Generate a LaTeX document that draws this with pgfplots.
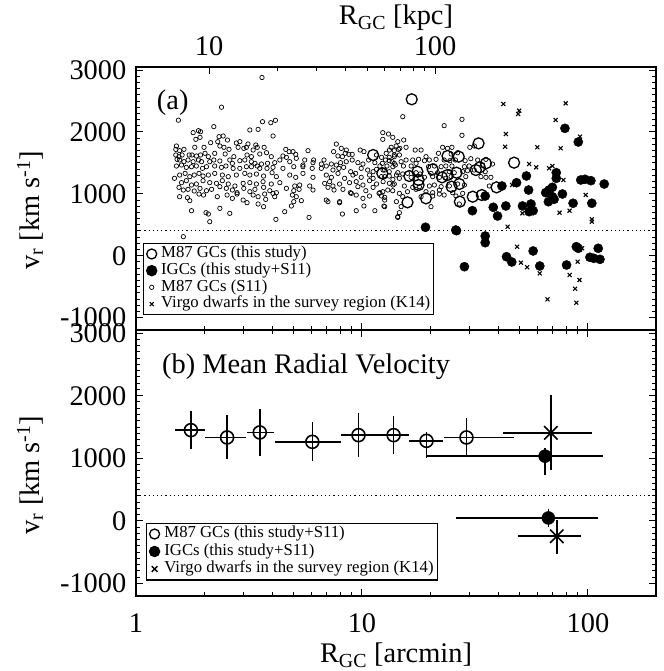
\documentclass[border=0pt]{standalone}
\usepackage{fontspec}
\setmainfont{Liberation Serif}
\usepackage{pgfplots}
\pgfplotsset{compat=1.18}
\begin{document}
\fontsize{28.5}{32}\selectfont
\begin{tikzpicture}
\useasboundingbox (-136bp,-75bp) rectangle (528bp,596bp);
% ---------------- bottom panel (b)
\begin{axis}[at={(0bp,0bp)}, anchor=south west,
  scale only axis, width=520bp, height=266bp, xmode=log, xmin=1, xmax=200,
  ymin=-1200, ymax=3050,
  xtick={1,10,100}, minor xtick={2,3,4,5,6,7,8,9,20,30,40,50,60,70,80,90,200},
  ytick={-1000,0,1000,2000,3000}, minor y tick num=9,
  tick align=inside, major tick length=7bp, minor tick length=4bp,
  axis line style={line width=1.6bp},
  every tick/.style={black, line width=1bp},
  ylabel={v\textsubscript{r} [km s\textsuperscript{-1}]},
  ylabel style={at={(rel axis cs:-0.204,0.455)}, rotate=0, anchor=center},
  legend cell align=left,
  xticklabels={1,10,100}, yticklabels={-1000,0,1000,2000,3000},
  xticklabel style={yshift=-8bp},
  xlabel={R\textsubscript{GC} [arcmin]},
  xlabel style={at={(rel axis cs:0.5,-0.222)}, anchor=center},
  legend style={at={(0.019,0.276)}, anchor=north west, draw=black, line width=1.4bp, fill=white,
    font=\fontsize{16.8}{18}\selectfont, inner xsep=3bp, inner ysep=2bp,
    nodes={inner sep=0.8bp}, /tikz/every odd column/.append style={column sep=4bp}},
]
\addlegendimage{only marks, mark=o, mark size=5bp, line width=1.3bp}
\addlegendentry{M87 GCs (this study+S11)}
\addlegendimage{only marks, mark=*, mark size=5bp}
\addlegendentry{IGCs (this study+S11)}
\addlegendimage{only marks, mark=x, mark size=4bp, line width=1.4bp}
\addlegendentry{Virgo dwarfs in the survey region (K14)}
\addplot[forget plot, line width=1bp, dash pattern=on 1.2bp off 3bp] coordinates {(1,400) (200,400)};
% error bars (horizontal, vertical)
\addplot[forget plot, line width=1.6bp] coordinates {(1.49,1450) (2.02,1450)};
\addplot[forget plot, line width=1.6bp] coordinates {(1.75,1141) (1.75,1754)};
\addplot[forget plot, line width=1.6bp] coordinates {(2.03,1333) (3.08,1333)};
\addplot[forget plot, line width=1.6bp] coordinates {(2.53,981) (2.53,1690)};
\addplot[forget plot, line width=1.6bp] coordinates {(3.10,1413) (4.06,1413)};
\addplot[forget plot, line width=1.6bp] coordinates {(3.53,1039) (3.53,1781)};
\addplot[forget plot, line width=1.6bp] coordinates {(4.14,1263) (8.08,1263)};
\addplot[forget plot, line width=1.6bp] coordinates {(6.03,954) (6.03,1583)};
\addplot[forget plot, line width=1.6bp] coordinates {(8.1,1370) (11.9,1370)};
\addplot[forget plot, line width=1.6bp] coordinates {(9.65,1023) (9.65,1727)};
\addplot[forget plot, line width=1.6bp] coordinates {(11.9,1370) (16.2,1370)};
\addplot[forget plot, line width=1.6bp] coordinates {(13.8,1066) (13.8,1674)};
\addplot[forget plot, line width=1.6bp] coordinates {(16.2,1279) (22.8,1279)};
\addplot[forget plot, line width=1.6bp] coordinates {(19.3,997) (19.3,1423)};
\addplot[forget plot, line width=1.6bp] coordinates {(23.0,1333) (47.0,1333)};
\addplot[forget plot, line width=1.6bp] coordinates {(29.0,1034) (29.0,1637)};
\addplot[forget plot, line width=1.6bp] coordinates {(19.3,1034) (116,1034)};
\addplot[forget plot, line width=1.6bp] coordinates {(64.6,730) (64.6,1157)};
\addplot[forget plot, line width=1.6bp] coordinates {(26.1,47) (111,47)};
\addplot[forget plot, line width=1.6bp] coordinates {(66.8,-97) (66.8,197)};
\addplot[forget plot, line width=1.6bp] coordinates {(42.2,1407) (104,1407)};
\addplot[forget plot, line width=1.6bp] coordinates {(68.5,810) (68.5,2010)};
\addplot[forget plot, line width=1.6bp] coordinates {(49.2,-246) (93.5,-246)};
\addplot[forget plot, line width=1.6bp] coordinates {(72.8,-523) (72.8,10)};
% symbols
\addplot[forget plot, only marks, mark=o, mark size=6.5bp, line width=1.6bp] coordinates {
 (1.75,1450) (2.53,1333) (3.53,1413) (6.03,1263) (9.65,1370) (13.8,1370) (19.3,1279) (29.0,1333)};
\addplot[forget plot, only marks, mark=*, mark size=6.5bp] coordinates {(64.6,1034) (66.8,47)};
\addplot[forget plot, only marks, mark=x, mark size=9.5bp, line width=1.6bp] coordinates {(68.5,1407) (72.8,-246)};
\node[anchor=west, inner sep=0pt] at (rel axis cs:0.05,0.861) {(b) Mean Radial Velocity};
\end{axis}
% ---------------- top panel (a)
\begin{axis}[at={(0bp,266bp)}, anchor=south west,
  scale only axis, width=520bp, height=263bp, xmode=log, xmin=1, xmax=200,
  ymin=-1200, ymax=3050,
  xtick={1,10,100}, minor xtick={2,3,4,5,6,7,8,9,20,30,40,50,60,70,80,90,200},
  ytick={-1000,0,1000,2000,3000}, minor y tick num=9,
  tick align=inside, major tick length=7bp, minor tick length=4bp,
  axis line style={line width=1.6bp},
  every tick/.style={black, line width=1bp},
  ylabel={v\textsubscript{r} [km s\textsuperscript{-1}]},
  ylabel style={at={(rel axis cs:-0.204,0.455)}, rotate=0, anchor=center},
  legend cell align=left,
  xtick pos=left, xticklabels={}, yticklabels={-1000,0,1000,2000,3000},
  legend style={at={(0.0135,0.331)}, anchor=north west, draw=black, line width=1.4bp, fill=white,
    font=\fontsize{16.8}{18}\selectfont, inner xsep=3bp, inner ysep=2bp,
    nodes={inner sep=0.4bp}, /tikz/every odd column/.append style={column sep=4bp}},
]
\addlegendimage{only marks, mark=o, mark size=5bp, line width=1.3bp}
\addlegendentry{M87 GCs (this study)}
\addlegendimage{only marks, mark=*, mark size=5bp}
\addlegendentry{IGCs (this study+S11)}
\addlegendimage{only marks, mark=o, mark size=2.2bp, line width=0.7bp}
\addlegendentry{M87 GCs (S11)}
\addlegendimage{only marks, mark=x, mark size=2.8bp, line width=1.1bp}
\addlegendentry{Virgo dwarfs in the survey region (K14)}
\addplot[forget plot, line width=1bp, dash pattern=on 1.2bp off 3bp] coordinates {(1,400) (200,400)};
% M87 GCs (S11)
\addplot[forget plot, only marks, mark=o, mark size=2.2bp, line width=0.7bp] table {
x y
3.61 2880
2.39 2400
1.54 2190
3.63 2166
3.95 2150
4.14 2188
2.21 2086
3.19 2032
3.47 2042
1.89 2021
1.79 1989
1.93 2005
2.33 1924
2.43 1935
4.04 1935
1.84 1881
1.92 1913
2.30 1843
2.54 1870
2.78 1822
2.88 1843
2.14 1827
3.13 1806
3.39 1789
3.69 1752
1.51 1773
1.50 1719
1.63 1719
1.56 1698
1.82 1752
2.00 1752
2.02 1655
2.35 1773
2.45 1752
2.58 1719
2.83 1752
3.00 1735
3.08 1752
3.30 1708
3.44 1752
3.78 1665
4.60 1719
4.76 1682
4.95 1682
5.09 1638
5.77 1698
7.70 1805
8.10 1735
8.52 1708
8.19 1601
8.75 1638
1.50 1628
1.55 1601
1.60 1628
1.72 1628
1.77 1628
1.85 1612
1.93 1628
2.09 1601
2.23 1655
2.48 1644
2.71 1601
3.10 1628
3.24 1601
3.53 1644
3.97 1601
4.47 1612
4.63 1590
5.12 1574
5.58 1547
6.11 1547
6.79 1547
7.49 1682
7.83 1612
8.43 1655
9.05 1638
9.82 1708
10.2 1682
11.6 1628
12.2 1590
12.8 1655
13.2 1590
13.9 1628
1.52 1558
1.56 1547
1.63 1520
1.70 1547
1.79 1520
1.89 1547
1.95 1520
2.12 1520
2.21 1547
2.35 1531
2.60 1547
2.67 1493
2.88 1536
3.03 1547
3.24 1520
3.36 1493
3.59 1482
3.82 1493
4.11 1504
4.33 1547
4.79 1520
5.48 1466
6.07 1504
6.61 1482
6.95 1450
7.32 1482
7.70 1466
8.04 1504
8.52 1520
9.05 1547
9.59 1504
10.1 1482
10.7 1547
11.4 1504
12.0 1450
13.2 1536
13.9 1493
1.51 1450
1.59 1466
1.67 1428
1.76 1439
1.85 1450
1.97 1412
2.05 1439
2.23 1450
2.39 1428
2.50 1450
2.69 1412
2.88 1412
3.08 1439
3.24 1439
3.44 1450
3.53 1412
3.80 1412
4.04 1428
4.47 1412
4.99 1439
5.48 1439
6.02 1412
6.61 1412
7.44 1385
7.91 1412
8.29 1428
8.91 1358
9.37 1331
9.92 1412
10.6 1385
11.2 1358
11.6 1396
12.6 1385
13.7 1439
1.48 1251
1.56 1304
1.65 1331
1.73 1278
1.81 1304
1.90 1331
1.98 1288
2.09 1304
2.23 1331
2.41 1304
2.56 1278
2.78 1304
3.03 1331
3.19 1304
3.41 1320
3.67 1288
4.00 1342
4.18 1278
4.79 1304
5.09 1267
5.48 1331
6.07 1267
6.95 1304
7.32 1267
7.83 1331
8.38 1251
9.12 1304
9.92 1267
10.8 1304
11.2 1251
12.2 1278
13.2 1288
14.2 1304
1.59 1181
1.67 1213
1.76 1143
1.85 1159
1.98 1213
2.12 1181
2.27 1170
2.41 1213
2.56 1159
2.74 1127
2.98 1170
3.19 1181
3.41 1159
3.65 1197
3.97 1159
4.33 1181
5.04 1127
5.30 1143
5.87 1127
6.84 1170
7.19 1197
7.44 1127
7.96 1159
8.81 1181
9.43 1197
10.1 1143
10.8 1213
11.6 1159
12.4 1197
13.7 1143
1.55 1105
1.62 1062
1.70 1073
1.81 1046
1.92 1089
2.05 1051
2.16 1073
2.35 1116
2.51 1089
2.67 1062
2.80 1019
3.00 1089
3.19 1035
3.36 1073
3.67 1105
3.91 1051
4.18 1019
4.63 1089
4.99 1051
5.27 1073
6.07 1062
7.07 1105
7.52 1062
8.24 1073
8.88 1019
9.59 1116
10.4 1051
11.2 1105
12.0 1019
13.0 1062
1.56 954
1.69 938
1.73 890
1.90 997
1.99 981
2.29 954
2.53 981
2.67 927
2.80 997
2.98 900
3.30 981
3.47 954
3.71 997
3.75 911
4.04 1008
4.11 954
4.92 981
5.12 954
4.99 874
5.39 890
6.95 900
7.96 874
8.97 1008
9.43 981
10.1 927
10.8 965
11.9 1008
12.2 965
12.6 900
14.2 874
1.76 728
2.04 696
2.09 674
2.35 766
2.60 685
3.10 857
3.47 836
3.67 793
4.16 588
4.55 712
4.87 804
5.83 620
7.07 874
7.96 857
8.19 674
9.43 728
10.2 804
11.4 728
12.6 793
14.4 631
2.12 550
1.62 308
15.15 2247
23.1 2102
27.7 2204
27.7 1946
30.0 1752
31.4 1773
12.36 1989
13.68 1913
13.1 1967
12.36 1881
14.4 1843
15.3 1870
14.16 1773
13.46 1752
14.7 1735
13.23 1708
13.9 1698
14.5 1719
15.67 1752
17.2 1708
18.26 1708
19.2 1601
21.8 1655
22.75 1752
23.9 1735
25.0 1752
24.8 1644
26.5 1665
13.9 1601
14.64 1628
12.7 1547
13.6 1520
14.9 1520
15.67 1547
16.77 1547
17.8 1558
18.9 1536
19.87 1547
21.26 1558
23.1 1547
24.5 1536
25.9 1547
28.6 1536
30.3 1568
32.5 1547
35.35 1558
12.3 1493
12.9 1450
14.05 1466
15.25 1450
16.5 1450
17.35 1493
19.7 1439
20.9 1450
22.4 1439
23.5 1450
25.0 1450
28.4 1439
29.8 1450
34.2 1466
37.8 1482
12.4 1385
13.2 1358
14.4 1342
15.15 1321
15.9 1331
17.35 1342
18.1 1321
20.2 1331
21.6 1342
24.35 1358
25.6 1342
27.9 1358
29.3 1375
31.4 1385
35.1 1358
37.2 1267
12.6 1278
13.7 1234
14.64 1251
16.5 1267
17.35 1251
18.9 1267
20.55 1278
22.0 1267
23.5 1251
24.8 1278
28.8 1278
33.6 1278
35.35 1267
13.23 1170
13.9 1159
15.4 1127
16.77 1105
17.95 1116
19.87 1127
20.9 1143
22.4 1116
24.35 1127
26.5 1159
28.4 1143
36.6 1127
12.36 1035
13.68 1051
14.64 1008
15.9 1035
17.35 1073
19.2 1035
20.55 1019
22.0 1062
23.1 981
25.2 1019
27.9 1008
12.6 944
15.15 954
18.26 954
20.55 965
22.0 997
26.06 965
12.5 803
14.9 793
14.64 696
14.4 620
20.2 793
26.95 836
};
% M87 GCs (this study)
\addplot[forget plot, only marks, mark=o, mark size=5.5bp, line width=1.3bp] table {
x y
16.6 2528
32.8 1816
47.1 1504
23.9 1612
26.8 1601
35.35 1493
33.2 1428
31.9 1385
17.6 1358
20.55 1396
16.2 1288
17.8 1143
15.9 863
19.2 927
23.9 1304
26.2 1342
26.95 1159
24.9 1116
30.9 954
39.4 1105
33.9 981
27.1 874
12.3 1331
17.8 1224
22.6 1267
11.2 1628
};
% IGCs
\addplot[forget plot, only marks, mark=*, mark size=4.6bp] table {
x y
19.1 460
26.2 405
26.0 415
28.4 -177
35.1 319
35.1 211
35.1 965
30.8 728
38.1 783
39.8 642
41.6 1127
43.3 804
48.3 1180
53.4 1289
54.6 1062
51.3 804
54.9 712
57.2 728
55.9 836
57.2 77
43.6 -16
46.0 -101
61.2 -166
65.0 1019
67.3 1062
69.6 1106
69.6 954
66.8 873
70.8 912
72.4 1342
72.4 1251
77.1 998
85.9 848
79.1 2059
90.6 1838
92.9 1224
97.0 1235
103 1213
118 1159
104 848
80.4 -150
88.8 146
90.6 120
102 -25
106 -41
113 -58
111 120
};
% Virgo dwarfs
\addplot[forget plot, only marks, mark=x, mark size=2.8bp, line width=1.1bp] table {
x y
42.2 2452
79.7 2463
49.6 2344
49.1 2290
71.9 2193
43.3 1967
92.2 1924
43.0 1762
59.7 1752
75.7 1736
54.9 1483
59.0 1429
67.3 1413
69.6 1450
46.2 1143
77.9 1224
97.7 982
57.2 836
51.3 686
74.9 696
82.9 728
104 589
104 550
44.1 469
48.6 146
50.5 -112
53.8 -187
61.2 -284
94.2 120
90.0 -96
83.0 -311
91.7 -392
87.7 -533
66.2 -704
88.8 -759
};
\node[anchor=west, inner sep=0pt] at (rel axis cs:0.04,0.863) {(a)};
\end{axis}
% ---------------- top kpc axis
\begin{axis}[scale only axis, width=520bp, height=263bp, at={(0bp,266bp)}, anchor=south west,
  xmode=log, xmin=4.75, xmax=950, ymin=0, ymax=1,
  axis x line*=top, axis y line=none,
  xtick={10,100}, xticklabels={10,100},
  tick align=inside, major tick length=7bp, minor tick length=4bp,
  axis line style={line width=1.6bp}, every tick/.style={black, line width=1bp},
  xticklabel style={yshift=2bp},
  xlabel={R\textsubscript{GC} [kpc]},
  xlabel style={at={(rel axis cs:0.5,1.186)}, anchor=center},
]
\end{axis}
\end{tikzpicture}
\end{document}
